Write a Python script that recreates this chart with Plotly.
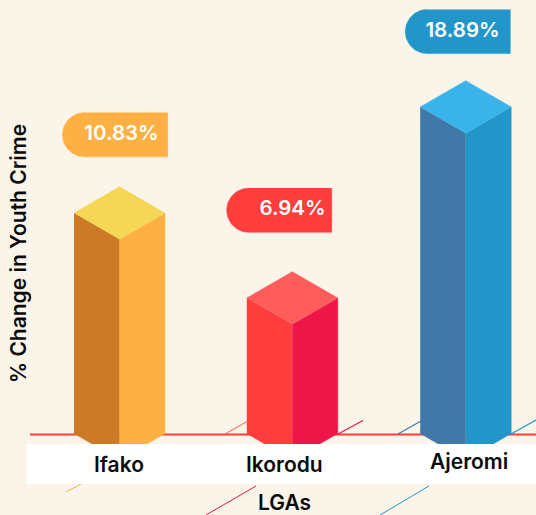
import numpy as np
import plotly.graph_objects as go

categories = ["Ifako", "Ikorodu", "Ajeromi"]
values = [10.83, 6.94, 18.89]
value_labels = ["10.83%", "6.94%", "18.89%"]
x_title = "LGAs"
y_title = "% Change in Youth Crime"

W, H = 536, 515
# the bars follow a log scale: px = A - B * ln(value)
A, B = 667.5, 190.75
FONT = "Inter"
BG = "#fbf4e9"

centers = [119.5, 292.3, 465.7]
half_w = 45.5
iso = 26.3
floor_px = 433.5
top_cols = ["#f5d755", "#ff5c5c", "#38b4ea"]
left_cols = ["#cc7a25", "#ff3d3d", "#3f78a9"]
right_cols = ["#feb043", "#ee1548", "#2296c9"]
pill_cols = ["#feb043", "#ff3d3d", "#2296c9"]
pill_lr = [(62.5, 167.7), (226.7, 331.7), (405.3, 510.3)]
pill_mid = [134.7, 210.2, 31.5]
pill_text_x = [121.5, 292.5, 462.5]
pill_r = 22.1
label_xy = [(118.5, 464.5), (284, 464.5), (469, 461.5)]
LABEL = dict(family=FONT, size=21, color="#0b0b0b", weight=600)


def val(px):
    return np.exp((A - np.asarray(px, dtype=float)) / B)


def px_of(v):
    return A - B * np.log(v)


fig = go.Figure()


def poly(xs, pxs, color):
    fig.add_trace(go.Scatter(x=list(xs), y=list(val(pxs)), mode="lines", fill="toself",
                             fillcolor=color, line=dict(color=color, width=0.5),
                             hoverinfo="skip", showlegend=False))


for i, v in enumerate(values):
    c, t = centers[i], px_of(v)
    l, r = c - half_w, c + half_w
    poly([l, c, c, l], [t, t + iso, floor_px + iso, floor_px], left_cols[i])
    poly([c, r, r, c], [t + iso, t, floor_px, floor_px + iso], right_cols[i])
    poly([l, c, r, c], [t, t - iso, t, t + iso], top_cols[i])
    # value pill
    a, b = pill_lr[i]
    m = pill_mid[i]
    th = np.linspace(np.pi / 2, 3 * np.pi / 2, 40)
    xs = list(a + pill_r + pill_r * np.cos(th)) + [b, b]
    ys = list(m - pill_r * np.sin(th)) + [m + pill_r, m - pill_r]
    poly(xs, ys, pill_cols[i])

fig.add_trace(go.Scatter(x=pill_text_x, y=list(val(pill_mid)), mode="text", text=value_labels,
                         textposition="middle center",
                         textfont=dict(family=FONT, size=20.5, color="white", weight=600),
                         hoverinfo="skip", showlegend=False))


def seg(x0, y0, x1, y1, color, width=1):
    return dict(type="line", xref="paper", yref="paper", x0=x0 / W, x1=x1 / W,
                y0=1 - y0 / H, y1=1 - y1 / H, line=dict(color=color, width=width), layer="below")


shapes = [
    seg(30, 434.5, 536, 434.5, "#ff3d3d", 2),
    seg(225, 434, 248, 421, "#ff5c5c", 1),
    seg(338, 434, 363, 420.5, "#ee1548", 1.2),
    seg(398, 434, 421, 421, "#3f78a9", 1.2),
    seg(511, 434, 536, 420, "#2296c9", 1.2),
    seg(66, 492, 81, 484, "#feb043", 1),
    seg(206, 515, 256, 486, "#ee1548", 1),
    seg(380, 515, 429, 486, "#2296c9", 1),
    dict(type="rect", xref="paper", yref="paper", x0=27 / W, x1=1, y0=1 - 484 / H, y1=1 - 444 / H,
         fillcolor="white", line=dict(width=0), layer="above"),
]

annotations = [
    dict(x=x / W, y=1 - y / H, xref="paper", yref="paper", text=c, showarrow=False,
         xanchor="center", yanchor="middle", font=LABEL)
    for c, (x, y) in zip(categories, label_xy)
]
annotations.append(dict(x=284 / W, y=1 - 502.5 / H, xref="paper", yref="paper", text=x_title, showarrow=False,
                        xanchor="center", yanchor="middle", font=LABEL))
annotations.append(dict(x=18 / W, y=1 - 254 / H, xref="paper", yref="paper", text=y_title, showarrow=False,
                        xanchor="center", yanchor="middle", textangle=-90, font=LABEL))

fig.update_layout(
    width=W, height=H, margin=dict(l=0, r=0, t=0, b=0),
    paper_bgcolor=BG, plot_bgcolor=BG, showlegend=False,
    xaxis=dict(range=[0, W], visible=False, fixedrange=True),
    yaxis=dict(type="log", range=[np.log10(val(H)), np.log10(val(0))], visible=False, fixedrange=True),
    shapes=shapes, annotations=annotations,
)
fig.write_html("out.html", config=dict(displayModeBar=False),
               post_script="document.body.style.margin='0';document.documentElement.style.overflow='hidden';")
